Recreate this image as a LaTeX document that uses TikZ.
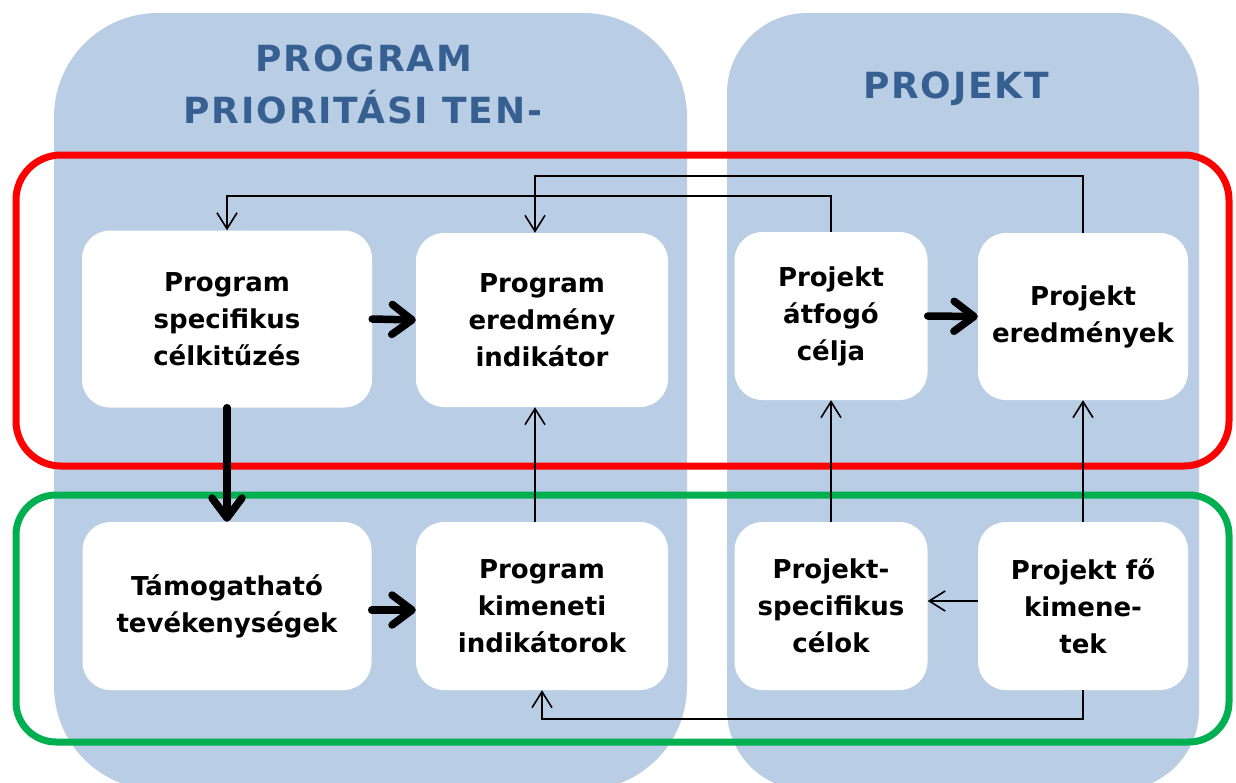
\documentclass[tikz,border=0pt]{standalone}
\usepackage{fontspec}
\setmainfont{DejaVu Sans}
\usetikzlibrary{arrows.meta}
\definecolor{panelblue}{RGB}{185,205,229}
\definecolor{titleblue}{RGB}{55,96,146}
\definecolor{framered}{RGB}{255,0,0}
\definecolor{framegreen}{RGB}{0,176,80}
\tikzset{
  panel/.style={fill=panelblue},
  titletext/.style={text=titleblue, font=\bfseries\fontsize{36}{36}\selectfont\addfontfeature{LetterSpace=5}, anchor=base, inner sep=0pt},
  frame/.style={line width=7pt},
  whitebox/.style={rectangle, rounded corners=28pt, fill=white, inner sep=0pt, align=center,
    font=\bfseries\fontsize{26}{37}\selectfont},
  thinarr/.style={line width=1.6pt, -{Straight Barb[length=16pt,width=20pt]}},
  thickarr/.style={line width=7.5pt, line cap=round, line join=round,
    -{Straight Barb[length=20pt,width=30pt,line cap=round,line join=round]}},
}
\begin{document}
\begin{tikzpicture}[x=1pt,y=-1pt]
\useasboundingbox (0,0) rectangle (1236,782);
% panels
\fill[panel, rounded corners=104pt] (54,13) rectangle (687,790);
\fill[panel, rounded corners=80pt] (727,13) rectangle (1199,790);
% titles
\node[titletext] (t1) at (364,71) {PROGRAM};
\node[titletext] (t2) at (363,123) {PRIORITÁSI TEN-};
\node[titletext] (t3) at (956,98) {PROJEKT};
% frames
\draw[frame, framered, rounded corners=45pt] (16,155) rectangle (1229,466);
\draw[frame, framegreen, rounded corners=40pt] (16,495) rectangle (1229,742);
% boxes
\node[whitebox, minimum width=290pt, minimum height=177pt] (b1) at (227,319) {Program\\specifikus\\célkitűzés};
\node[whitebox, minimum width=252pt, minimum height=174pt] (b2) at (542,320) {Program\\eredmény\\indikátor};
\node[whitebox, minimum width=193pt, minimum height=168pt] (b3) at (831,316) {Projekt\\átfogó\\célja};
\node[whitebox, minimum width=210pt, minimum height=167pt] (b4) at (1083,316.5) {Projekt\\eredmények};
\node[whitebox, minimum width=289pt, minimum height=168pt] (b5) at (227,606) {Támogatható\\tevékenységek};
\node[whitebox, minimum width=252pt, minimum height=168pt] (b6) at (542,606) {Program\\kimeneti\\indikátorok};
\node[whitebox, minimum width=193pt, minimum height=168pt] (b7) at (831,606) {Projekt-\\specifikus\\célok};
\node[whitebox, minimum width=210pt, minimum height=168pt] (b8) at (1083,606) {Projekt fő\\kimene-\\tek};
% helper coordinates
\coordinate (ytopA) at (0,176);
\coordinate (ytopB) at (0,196);
\coordinate (ybot) at (0,719);
\coordinate (ymid) at (0,601);
% thick arrows
\draw[thickarr] (b1.east) -- (b2.west);
\draw[thickarr] (b3.east) -- (b4.west);
\draw[thickarr] ([yshift=-4pt]b5.east) -- ([yshift=-4pt]b6.west);
\draw[thickarr] (b1.south) -- (b5.north);
% thin arrows
\draw[thinarr] ([xshift=-7pt]b6.north) -- ([xshift=-7pt]b2.south);
\draw[thinarr] (b7.north) -- (b3.south);
\draw[thinarr] (b8.north) -- (b4.south);
\draw[thinarr] (b8.west |- ymid) -- (b7.east |- ymid);
\draw[thinarr] (b8.south) -- (b8.south |- ybot) -| (b6.south);
\draw[thinarr] (b3.north) -- (b3.north |- ytopB) -| (b1.north);
\draw[thinarr] (b4.north) -- (b4.north |- ytopA) -| ([xshift=-7pt]b2.north);
\end{tikzpicture}
\end{document}
